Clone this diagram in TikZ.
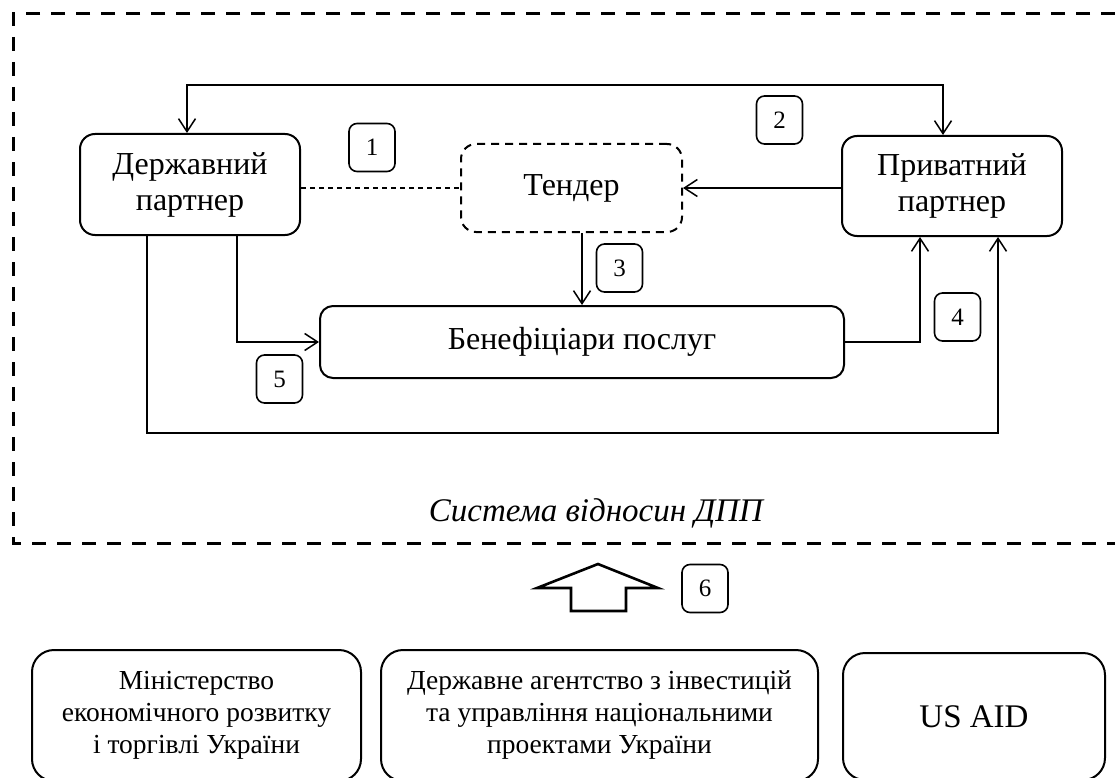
\documentclass[tikz,border=0pt]{standalone}
\usepackage{fontspec}
\setmainfont{Liberation Serif}
\usetikzlibrary{arrows.meta}
\begin{document}
\begin{tikzpicture}[x=1pt,y=-1pt,
  >={Straight Barb[length=13pt,width=17pt]},
  box/.style={draw, line width=2pt, rounded corners=15pt, inner sep=0pt, align=center,
    font=\fontsize{32}{36}\selectfont},
  tbox/.style={box, dash pattern=on 8pt off 6pt},
  num/.style={draw, line width=1.6pt, rounded corners=8pt, minimum width=46pt,
    minimum height=48pt, inner sep=0pt, font=\fontsize{25}{28}\selectfont},
  bbox/.style={draw, line width=2pt, rounded corners=22pt, inner sep=0pt, align=center,
    font=\fontsize{27.5}{32}\selectfont},
  conn/.style={line width=1.5pt},
  frame/.style={line width=3pt, dash pattern=on 14pt off 11pt},
  thin dash/.style={line width=1.3pt, dash pattern=on 5pt off 4pt},
  blockarrow/.style={line width=2.6pt, line join=miter}
]
\useasboundingbox (0,0) rectangle (1115,778);
\clip (0,0) rectangle (1115,778);

% outer dashed frame
\draw[frame] (1140,14) -- (13,14) -- (13,543) -- (1140,543);

% main nodes
\node[box, minimum width=220pt, minimum height=101pt] (DP) at (190,184.5) {Державний\\партнер};
\node[box, minimum width=220pt, minimum height=100pt] (PP) at (952,186) {Приватний\\партнер};
\node[tbox, minimum width=221pt, minimum height=88pt] (T) at (571.5,188) {Тендер};
\node[box, rounded corners=13pt, minimum width=524pt, minimum height=72pt] (B) at (582,342) {Бенефіціари послуг};

% number boxes
\node[num] (n1) at (372,147.5) {1};
\node[num] (n2) at (779.5,120) {2};
\node[num] (n3) at (619.5,268) {3};
\node[num] (n4) at (957.5,317) {4};
\node[num] (n5) at (279.5,379) {5};
\node[num] (n6) at (705,588.5) {6};

% frame label
\node[font=\itshape\fontsize{33}{36}\selectfont] (lbl) at (596,513) {Система відносин ДПП};

% connectors
\draw[conn, <->] ([xshift=-3pt]DP.north) -- ++(0,-48) -| ([xshift=-9pt]PP.north);
\draw[conn, ->] (T.east -| PP.west) -- (T.east);
\draw[thin dash] (T.west -| DP.east) -- (T.west);
\draw[conn, ->] (B.north |- T.south) -- (B.north);
\draw[conn, ->] ([xshift=47pt]DP.south) |- (B.west);
\draw[conn, ->] (B.east) -| ([xshift=-32pt]PP.south);
\draw[conn, ->] ([xshift=-43pt]DP.south) -- ++(0,197) -| ([xshift=46pt]PP.south);

% block arrow 6
\draw[blockarrow] (598,564) -- (658,588) -- (626,588) -- (626,611) -- (571,611)
  -- (571,588) -- (537,588) -- cycle;

% bottom boxes
\node[bbox, minimum width=329pt, minimum height=131pt] (MIN) at (196.5,715.5)
  {Міністерство\\економічного розвитку\\і торгівлі України};
\node[bbox, minimum width=437pt, minimum height=131pt] (AG) at (599.5,715.5)
  {Державне агентство з інвестицій\\та управління національними\\проектами України};
\node[bbox, minimum width=262pt, minimum height=127pt, font=\fontsize{33}{38}\selectfont] (US) at (974,716.5)
  {US AID};
\end{tikzpicture}
\end{document}
